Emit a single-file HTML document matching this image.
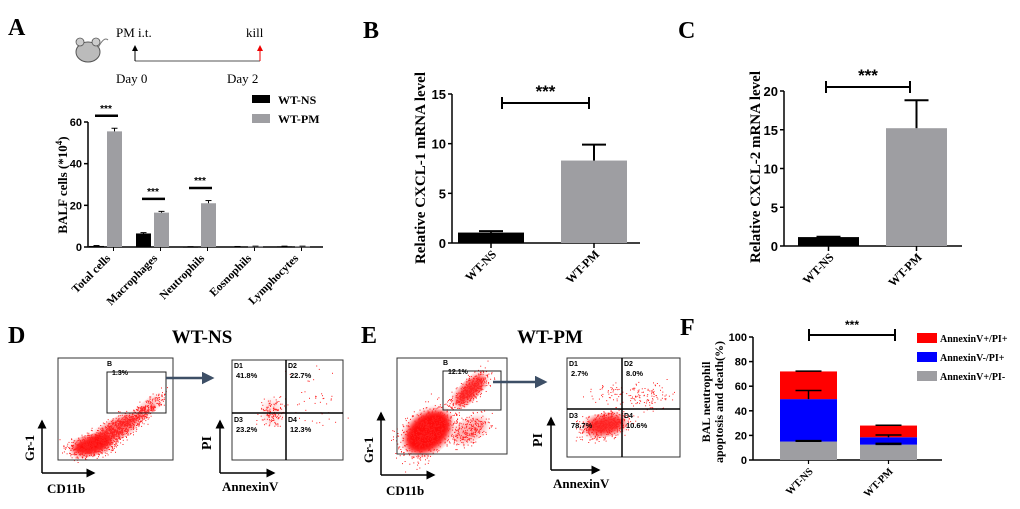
<!DOCTYPE html>
<html><head><meta charset="utf-8">
<style>
html,body{margin:0;padding:0;background:#fff;}
svg{display:block;}
.pl{font-family:"Liberation Serif",serif;font-weight:bold;font-size:24px;}
.ser{font-family:"Liberation Serif",serif;font-weight:bold;}
.sans{font-family:"Liberation Sans",sans-serif;font-weight:bold;}
</style></head>
<body>
<svg id="fig" width="1020" height="509" viewBox="0 0 1020 509" xmlns="http://www.w3.org/2000/svg">
<defs>
<marker id="ah" markerWidth="6" markerHeight="6" refX="5" refY="3" orient="auto"><path d="M0,0 L6,3 L0,6 z" fill="#000"/></marker>
<marker id="ahs" markerWidth="5" markerHeight="5" refX="4" refY="2.5" orient="auto"><path d="M0,0 L5,2.5 L0,5 z" fill="#3d4f66"/></marker>
<marker id="ahr" markerWidth="6" markerHeight="6" refX="5" refY="3" orient="auto"><path d="M0,0 L6,3 L0,6 z" fill="#e00"/></marker>
<filter id="blur"><feGaussianBlur stdDeviation="3"/></filter>
</defs>

<text class="pl" x="8" y="35">A</text>
<text class="pl" x="363" y="38">B</text>
<text class="pl" x="678" y="38">C</text>
<text class="pl" x="8" y="343">D</text>
<text class="pl" x="361" y="343">E</text>
<text class="pl" x="680" y="335">F</text>

<g>
<ellipse cx="88" cy="52" rx="12" ry="10" fill="#bbb" stroke="#555" stroke-width="1"/>
<circle cx="80" cy="42" r="4" fill="#ccc" stroke="#555" stroke-width="0.8"/>
<circle cx="96" cy="42" r="4" fill="#ccc" stroke="#555" stroke-width="0.8"/>
<path d="M98,48 Q104,36 108,40" fill="none" stroke="#777" stroke-width="1"/>
</g>
<g>
<line x1="135" y1="61" x2="260" y2="61" stroke="#555" stroke-width="1"/>
<line x1="135" y1="61" x2="135" y2="46" stroke="#000" stroke-width="1" marker-end="url(#ah)"/>
<line x1="260" y1="61" x2="260" y2="46" stroke="#e00" stroke-width="1" marker-end="url(#ahr)"/>
<text class="ser" style="font-weight:normal" x="116" y="37" font-size="13">PM i.t.</text>
<text class="ser" style="font-weight:normal" x="246" y="37" font-size="13">kill</text>
<text class="ser" style="font-weight:normal" x="116" y="83" font-size="13">Day 0</text>
<text class="ser" style="font-weight:normal" x="227" y="83" font-size="13">Day 2</text>
</g>

<g id="chartA"></g>
<g id="chartB"></g>
<g id="chartC"></g>
<g id="chartF"></g>
<g id="flowD"></g>
<g id="flowE"></g>
</svg>

<script>
// ---------- Panel A data ----------
const aCategories = ["Total cells","Macrophages","Neutrophils","Eosnophils","Lymphocytes"];
const aNS = [0.5, 6.5, 0.1, 0.2, 0.3];
const aNSErr = [0.2, 0.4, 0.05, 0.05, 0.1];
const aPM = [55.5, 16.5, 21, 0.3, 0.3];
const aPMErr = [1.5, 0.6, 1.3, 0.1, 0.1];
const aTicks = [0, 20, 40, 60];
const aSig = [0, 1, 2];
// ---------- Panel B data ----------
const bCategories = ["WT-NS","WT-PM"];
const bValues = [1.05, 8.3];
const bErr = [0.15, 1.6];
const bTicks = [0, 5, 10, 15];
// ---------- Panel C data ----------
const cCategories = ["WT-NS","WT-PM"];
const cValues = [1.15, 15.2];
const cErr = [0.05, 3.6];
const cTicks = [0, 5, 10, 15, 20];
// ---------- Panel F data ----------
const fCategories = ["WT-NS","WT-PM"];
const fGrey = [15, 12.5];
const fBlue = [34.5, 6];
const fRed = [22.5, 9.5];
const fGreyErr = [0.8, 1.0];
const fBlueErr = [7, 1.8];
const fRedErr = [0.3, 0.3];
const fTicks = [0, 20, 40, 60, 80, 100];
const fLegend = ["AnnexinV+/PI+","AnnexinV-/PI+","AnnexinV+/PI-"];

const NS = "http://www.w3.org/2000/svg";
function mk(parent, tag, attrs, text){
  const e = document.createElementNS(NS, tag);
  for (const k in attrs) e.setAttribute(k, attrs[k]);
  if (text !== undefined) e.textContent = text;
  parent.appendChild(e);
  return e;
}
function errBar(g, x, yTop, yBase, hw, w){
  mk(g,'line',{x1:x,x2:x,y1:yTop,y2:yBase,stroke:'#000','stroke-width':w});
  mk(g,'line',{x1:x-hw,x2:x+hw,y1:yTop,y2:yTop,stroke:'#000','stroke-width':w});
}

// ===== Chart A =====
(function(){
  const g = document.getElementById('chartA');
  const x0 = 88, xEnd = 323, yZero = 247, yTop = 122, vMax = 60;
  const y = v => yZero - v / vMax * (yZero - yTop);
  const gx = i => 105 + i * 47;
  const bw = 15;
  let ax = mk(g,'line',{x1:x0,x2:x0,y1:yTop,y2:yZero,stroke:'#000','stroke-width':1.5});
   
  ax = mk(g,'line',{x1:x0,x2:xEnd,y1:yZero,y2:yZero,stroke:'#000','stroke-width':1.5});
   
  aTicks.forEach(t=>{
    mk(g,'line',{x1:x0-4,x2:x0,y1:y(t),y2:y(t),stroke:'#000','stroke-width':1.5});
    const tl = mk(g,'text',{x:x0-6,y:y(t)+4,'text-anchor':'end','font-size':11,class:'sans'},t);
     
  });
  aCategories.forEach((c,i)=>{
    const cx = gx(i);
    mk(g,'line',{x1:cx+bw/2+1,x2:cx+bw/2+1,y1:yZero,y2:yZero+4,stroke:'#000','stroke-width':1});
    const b1 = mk(g,'rect',{x:cx-bw-1,y:y(aNS[i]),width:bw,height:Math.max(0.8,yZero-y(aNS[i])),fill:'#000'});
     
    errBar(g, cx-bw/2-1, y(aNS[i]+aNSErr[i]), y(aNS[i]), 3, 1);
    const b2 = mk(g,'rect',{x:cx+2,y:y(aPM[i]),width:bw,height:Math.max(0.8,yZero-y(aPM[i])),fill:'#9e9ea2'});
     
    errBar(g, cx+2+bw/2, y(aPM[i]+aPMErr[i]), y(aPM[i]), 3, 1);
    const tx = cx+6, ty = yZero+12;
    const lab = mk(g,'text',{x:tx,y:ty,'text-anchor':'end','font-size':11.5,class:'ser',transform:`rotate(-45 ${tx} ${ty})`},c);
     
  });
  aSig.forEach(i=>{
    const top = Math.max(aPM[i]+aPMErr[i], aNS[i]) + 6;
    const sy = y(top);
    const cx = gx(i);
    mk(g,'line',{x1:cx-10,x2:cx+13,y1:sy,y2:sy,stroke:'#000','stroke-width':2.5});
    const st = mk(g,'text',{x:cx+1,y:sy-4,'text-anchor':'middle','font-size':10,class:'sans'},'***');
     
  });
  const yt = mk(g,'text',{x:67,y:185,'text-anchor':'middle','font-size':13,class:'ser',transform:'rotate(-90 67 185)'});
   
  yt.appendChild(document.createTextNode('BALF cells (*10'));
  mk(yt,'tspan',{'baseline-shift':'super','font-size':9},'4');
  yt.appendChild(document.createTextNode(')'));
  const l1 = mk(g,'rect',{x:252,y:95,width:18,height:8,fill:'#000'});
   
  const lt1 = mk(g,'text',{x:278,y:104,'font-size':12,class:'ser'},'WT-NS');
   
  const l2 = mk(g,'rect',{x:252,y:114,width:18,height:9,fill:'#9e9ea2'});
   
  const lt2 = mk(g,'text',{x:278,y:123,'font-size':12,class:'ser'},'WT-PM');
   
})();

// ===== Charts B & C =====
function twoBar(id, prefix, cats, vals, errs, ticks, cfg){
  const g = document.getElementById(id);
  const vMax = ticks[ticks.length-1];
  const y = v => cfg.yZero - v / vMax * (cfg.yZero - cfg.yTop);
  let ax = mk(g,'line',{x1:cfg.x0,x2:cfg.x0,y1:cfg.yTop,y2:cfg.yZero,stroke:'#000','stroke-width':1.5});
   
  ax = mk(g,'line',{x1:cfg.x0,x2:cfg.xEnd,y1:cfg.yZero,y2:cfg.yZero,stroke:'#000','stroke-width':1.5});
   
  ticks.forEach(t=>{
    mk(g,'line',{x1:cfg.x0-4,x2:cfg.x0,y1:y(t),y2:y(t),stroke:'#000','stroke-width':1.5});
    const tl = mk(g,'text',{x:cfg.x0-6,y:y(t)+5,'text-anchor':'end','font-size':13,class:'sans'},t);
     
  });
  cats.forEach((c,i)=>{
    const bx = cfg.barX[i];
    const cx = bx + cfg.bw/2;
    const b = mk(g,'rect',{x:bx,y:y(vals[i]),width:cfg.bw,height:cfg.yZero-y(vals[i]),fill:i==0?'#000':'#9e9ea2'});
     
    errBar(g, cx, y(vals[i]+errs[i]), y(vals[i]), 12, 2);
    mk(g,'line',{x1:cx,x2:cx,y1:cfg.yZero,y2:cfg.yZero+5,stroke:'#000','stroke-width':1.5});
    const tx = cx+6, ty = cfg.yZero+12;
    const lab = mk(g,'text',{x:tx,y:ty,'text-anchor':'end','font-size':12,class:'ser',transform:`rotate(-45 ${tx} ${ty})`},c);
     
  });
  const s = cfg.sig;
  mk(g,'line',{x1:s.x1,x2:s.x2,y1:s.y,y2:s.y,stroke:'#000','stroke-width':2});
  mk(g,'line',{x1:s.x1,x2:s.x1,y1:s.y-6,y2:s.y+6,stroke:'#000','stroke-width':2});
  mk(g,'line',{x1:s.x2,x2:s.x2,y1:s.y-6,y2:s.y+6,stroke:'#000','stroke-width':2});
  const st = mk(g,'text',{x:(s.x1+s.x2)/2,y:s.y-6,'text-anchor':'middle','font-size':17,class:'sans'},'***');
   
  const yt = mk(g,'text',{x:cfg.titleX,y:cfg.titleY,'text-anchor':'middle','font-size':15,class:'ser',transform:`rotate(-90 ${cfg.titleX} ${cfg.titleY})`},cfg.title);
   
}
twoBar('chartB','b',bCategories,bValues,bErr,bTicks,{x0:452,xEnd:640,yTop:94,yZero:243,barX:[458,561],bw:66,
  sig:{x1:502,x2:589,y:103},titleX:425,titleY:168,title:'Relative CXCL-1 mRNA level'});
twoBar('chartC','c',cCategories,cValues,cErr,cTicks,{x0:784,xEnd:962,yTop:91,yZero:246,barX:[798,886],bw:61,
  sig:{x1:826,x2:910,y:87},titleX:760,titleY:167,title:'Relative CXCL-2 mRNA level'});

// ===== Chart F =====
(function(){
  const g = document.getElementById('chartF');
  const x0 = 753, xEnd = 942, yTop = 337, yZero = 460, vMax = 100;
  const y = v => yZero - v / vMax * (yZero - yTop);
  const barX = [780, 860], bw = 57;
  let ax = mk(g,'line',{x1:x0,x2:x0,y1:yTop,y2:yZero,stroke:'#000','stroke-width':1.5});
   
  ax = mk(g,'line',{x1:x0,x2:xEnd,y1:yZero,y2:yZero,stroke:'#000','stroke-width':1.5});
   
  fTicks.forEach(t=>{
    mk(g,'line',{x1:x0-4,x2:x0,y1:y(t),y2:y(t),stroke:'#000','stroke-width':1.5});
    const tl = mk(g,'text',{x:x0-6,y:y(t)+4,'text-anchor':'end','font-size':11,class:'sans'},t);
     
  });
  fCategories.forEach((c,i)=>{
    const bx = barX[i], cx = bx + bw/2;
    const g1 = fGrey[i], g2 = g1 + fBlue[i], g3 = g2 + fRed[i];
    let r = mk(g,'rect',{x:bx,y:y(g1),width:bw,height:yZero-y(g1),fill:'#9e9ea2'});
     
    r = mk(g,'rect',{x:bx,y:y(g2),width:bw,height:y(g1)-y(g2),fill:'#0000ff'});
     
    r = mk(g,'rect',{x:bx,y:y(g3),width:bw,height:y(g2)-y(g3),fill:'#ff0000'});
     
    errBar(g, cx, y(g1+fGreyErr[i]), y(g1), 13, 1.5);
    mk(g,'line',{x1:cx-13,x2:cx+13,y1:y(g1),y2:y(g1),stroke:'#000','stroke-width':1});
    errBar(g, cx, y(g2+fBlueErr[i]), y(g2), 13, 1.5);
    errBar(g, cx, y(g3+fRedErr[i]), y(g3), 13, 1.5);
    mk(g,'line',{x1:cx,x2:cx,y1:yZero,y2:yZero+4,stroke:'#000','stroke-width':1.2});
    const tx = cx+5, ty = yZero+12;
    const lab = mk(g,'text',{x:tx,y:ty,'text-anchor':'end','font-size':10.5,class:'ser',transform:`rotate(-45 ${tx} ${ty})`},c);
     
  });
  mk(g,'line',{x1:809,x2:895,y1:335,y2:335,stroke:'#000','stroke-width':2});
  mk(g,'line',{x1:809,x2:809,y1:329,y2:341,stroke:'#000','stroke-width':2});
  mk(g,'line',{x1:895,x2:895,y1:329,y2:341,stroke:'#000','stroke-width':2});
  const st = mk(g,'text',{x:852,y:329,'text-anchor':'middle','font-size':12,class:'sans'},'***');
   
  const yt = mk(g,'text',{'text-anchor':'middle','font-size':12,class:'ser',transform:'rotate(-90 710 402)'});
   
  mk(yt,'tspan',{x:710,y:402},'BAL neutrophil');
  mk(yt,'tspan',{x:710,y:415},'apoptosis and death(%)');
  const cols = ['#ff0000','#0000ff','#9e9ea2'];
  fLegend.forEach((t,i)=>{
    const ly = 333 + i*19;
    const sw = mk(g,'rect',{x:917,y:ly,width:20,height:10,fill:cols[i]});
     
    const tl = mk(g,'text',{x:940,y:ly+9,'font-size':10,class:'ser'},t);
     
  });
})();

// ===== Flow cytometry panels (illustrative texture) =====
let seed = 7;
function rnd(){ seed = (seed*16807) % 2147483647; return (seed-1)/2147483646; }
function spray(g, cx, cy, rx, ry, n, angle){
  const a = angle*Math.PI/180;
  for(let i=0;i<n;i++){
    const u = (rnd()+rnd()+rnd()-1.5)/1.5, v=(rnd()+rnd()+rnd()-1.5)/1.5;
    const px = cx + u*rx*Math.cos(a) - v*ry*Math.sin(a);
    const py = cy + u*rx*Math.sin(a) + v*ry*Math.cos(a);
    mk(g,'rect',{x:px.toFixed(1),y:py.toFixed(1),width:1,height:1,fill:'#f22'});
  }
}
function flow(id, p){
  const g = document.getElementById(id);
  const t = mk(g,'text',{x:p.titleX,y:343,'text-anchor':'middle','font-size':19,class:'ser'},p.title);
   
  const b1 = p.p1;
  const c1 = mk(g,'g',{});
  p.clouds1.forEach(c=>{ mk(c1,'ellipse',{cx:c[0],cy:c[1],rx:c[2],ry:c[3],fill:'#f00',opacity:c[5],filter:'url(#blur)',transform:`rotate(${c[4]} ${c[0]} ${c[1]})`}); spray(c1,c[0],c[1],c[2]*1.8,c[3]*1.8,c[6],c[4]); });
  const r1 = mk(g,'rect',{x:b1[0],y:b1[1],width:b1[2],height:b1[3],fill:'none',stroke:'#333','stroke-width':1});
   
  const gate = p.gate;
  const gr = mk(g,'rect',{x:gate[0],y:gate[1],width:gate[2],height:gate[3],fill:'none',stroke:'#222','stroke-width':1});
   
  mk(g,'text',{x:gate[0],y:gate[1]-6,'font-size':7,class:'sans'},'B');
  mk(g,'text',{x:gate[0]+5,y:gate[1]+3,'font-size':7,class:'sans'},p.gatePct);
  const ar = mk(g,'line',{x1:p.arrow[0],y1:p.arrow[1],x2:p.arrow[2],y2:p.arrow[1],stroke:'#3d4f66','stroke-width':2.5,'marker-end':'url(#ahs)'});
   
  const a1 = p.ax1;
  mk(g,'polyline',{points:`${a1[0]},${a1[2]} ${a1[0]},${a1[1]+8}`,fill:'none',stroke:'#000','stroke-width':1.5,'marker-end':'url(#ah)'});
  mk(g,'polyline',{points:`${a1[0]},${a1[2]} ${a1[3]-8},${a1[2]}`,fill:'none',stroke:'#000','stroke-width':1.5,'marker-end':'url(#ah)'});
  let lt = mk(g,'text',{x:a1[0]-8,y:a1[2]-25,'text-anchor':'middle','font-size':13,class:'ser',transform:`rotate(-90 ${a1[0]-8} ${a1[2]-25})`},'Gr-1');
   
  lt = mk(g,'text',{x:a1[0]+5,y:a1[2]+20,'font-size':13,class:'ser'},'CD11b');
   
  const b2 = p.p2;
  const c2 = mk(g,'g',{});
  p.clouds2.forEach(c=>{ mk(c2,'ellipse',{cx:c[0],cy:c[1],rx:c[2],ry:c[3],fill:'#f00',opacity:c[5],filter:'url(#blur)',transform:`rotate(${c[4]} ${c[0]} ${c[1]})`}); spray(c2,c[0],c[1],c[2]*1.8,c[3]*1.8,c[6],c[4]); });
  const r2 = mk(g,'rect',{x:b2[0],y:b2[1],width:b2[2],height:b2[3],fill:'none',stroke:'#333','stroke-width':1});
   
  mk(g,'line',{x1:p.qx,x2:p.qx,y1:b2[1],y2:b2[1]+b2[3],stroke:'#000','stroke-width':1.5});
  mk(g,'line',{x1:b2[0],x2:b2[0]+b2[2],y1:p.qy,y2:p.qy,stroke:'#000','stroke-width':1.5});
  const q = p.quad;
  [[b2[0]+2,b2[1]+8,'D1'],[p.qx+2,b2[1]+8,'D2'],[b2[0]+2,p.qy+9,'D3'],[p.qx+2,p.qy+9,'D4']].forEach((d,i)=>{
    mk(g,'text',{x:d[0],y:d[1],'font-size':7,class:'sans'},d[2]);
    const qt = mk(g,'text',{x:d[0]+2,y:d[1]+10,'font-size':7.5,class:'sans'},q[i]);
     
  });
  const a2 = p.ax2;
  mk(g,'polyline',{points:`${a2[0]},${a2[2]} ${a2[0]},${a2[1]+8}`,fill:'none',stroke:'#000','stroke-width':1.5,'marker-end':'url(#ah)'});
  mk(g,'polyline',{points:`${a2[0]},${a2[2]} ${a2[3]-8},${a2[2]}`,fill:'none',stroke:'#000','stroke-width':1.5,'marker-end':'url(#ah)'});
  lt = mk(g,'text',{x:a2[0]-9,y:a2[2]-30,'text-anchor':'middle','font-size':14,class:'ser',transform:`rotate(-90 ${a2[0]-9} ${a2[2]-30})`},'PI');
   
  lt = mk(g,'text',{x:a2[0]+2,y:a2[2]+18,'font-size':13,class:'ser'},'AnnexinV');
   
}
flow('flowD',{title:'WT-NS',titleX:202,p1:[58,358,115,102],gate:[107,372,59,41],gatePct:'1.3%',arrow:[166,378,212],
  ax1:[42,413,473,102],p2:[232,360,111,100],qx:286,qy:413,quad:['41.8%','22.7%','23.2%','12.3%'],ax2:[220,413,473,282],
  clouds1:[[92,445,20,9,-15,0.95,600],[115,430,25,9,-30,0.6,700],[145,410,20,6,-40,0.25,300]],
  clouds2:[[272,412,10,12,0,0.12,140],[315,400,22,26,0,0.0,45]]});
flow('flowE',{title:'WT-PM',titleX:550,p1:[397,358,110,96],gate:[443,371,58,39],gatePct:'12.1%',arrow:[493,382,545],
  ax1:[381,405,475,442],p2:[567,358,113,99],qx:622,qy:409,quad:['2.7%','8.0%','78.7%','10.6%'],ax2:[551,410,470,607],
  clouds1:[[428,432,26,18,-40,0.95,700],[470,390,20,8,-45,0.75,500],[470,430,18,10,-30,0.3,250]],
  clouds2:[[605,425,20,10,-10,0.8,500],[645,395,22,12,0,0.0,120],[605,392,18,10,0,0.0,40]]});
</script>
</body></html>
